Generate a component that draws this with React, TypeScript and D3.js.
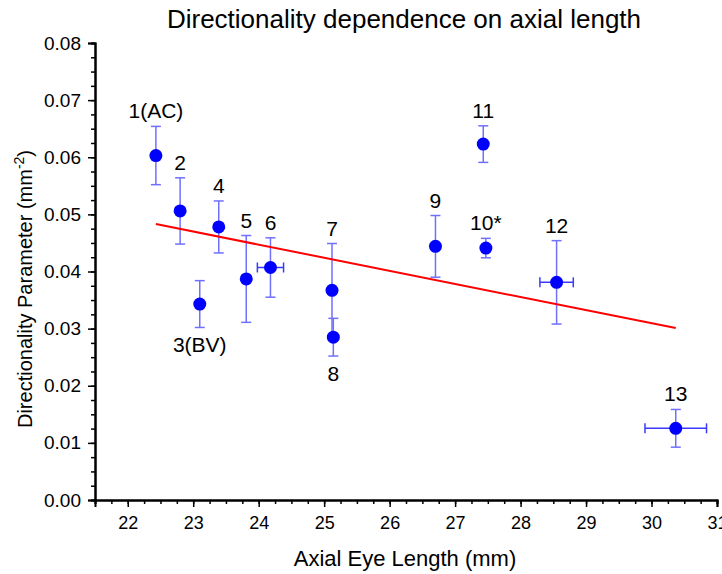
import React, { useEffect, useRef } from "react";
import * as d3 from "d3";

// point data
const labels = ["1(AC)", "2", "3(BV)", "4", "5", "6", "7", "8", "9", "10*", "11", "12", "13"];
const axialLength = [22.43, 22.8, 23.1, 23.39, 23.81, 24.18, 25.12, 25.14, 26.7, 27.47, 27.43, 28.55, 30.37];
const directionality = [0.0603, 0.0506, 0.0343, 0.0478, 0.0387, 0.0407, 0.0367, 0.0285, 0.0444, 0.0441, 0.0623, 0.0381, 0.01255];
const yErr = [0.0051, 0.0058, 0.0041, 0.00455, 0.0076, 0.0052, 0.0082, 0.0033, 0.0054, 0.0017, 0.0032, 0.0073, 0.0033];
const xErr = [0, 0, 0, 0, 0, 0.2, 0, 0, 0, 0, 0, 0.255, 0.47];
const labelSide = ["above", "above", "below", "above", "above", "above", "above", "below", "above", "above", "above", "above", "above"];

// linear fit end points
const fitX = [22.43, 30.37];
const fitY = [0.0483, 0.0301];

const xTicks = [22, 23, 24, 25, 26, 27, 28, 29, 30, 31];
const yTicks = [0, 0.01, 0.02, 0.03, 0.04, 0.05, 0.06, 0.07, 0.08];

export default function App() {
  const ref = useRef<SVGSVGElement>(null);

  useEffect(() => {
    const svg = d3.select(ref.current);
    svg.selectAll("*").remove();

    const x = d3.scaleLinear().domain([21.5, 31]).range([95, 717]);
    const y = d3.scaleLinear().domain([0, 0.08]).range([500, 43]);

    const font = "Arial, 'Liberation Sans', sans-serif";

    // title
    svg.append("text")
      .attr("x", 404)
      .attr("y", 28)
      .attr("text-anchor", "middle")
      .style("font-family", font)
      .style("font-size", "26px")
      .text("Directionality dependence on axial length");

    // axes, minor ticks drawn first
    const xAxis = d3.axisBottom(x).tickValues(xTicks).tickSize(7).tickFormat(d3.format("d"));
    const xMinor = d3.axisBottom(x).tickValues(d3.range(21.5, 31.01, 0.25)).tickSize(4).tickFormat(() => "");
    const yAxis = d3.axisLeft(y).tickValues(yTicks).tickSize(7).tickFormat(d3.format(".2f"));
    const yMinor = d3.axisLeft(y).tickValues(d3.range(0, 0.0801, 0.0025)).tickSize(4).tickFormat(() => "");

    const gxm = svg.append("g").attr("transform", "translate(0,500)").call(xMinor);
    const gx = svg.append("g").attr("transform", "translate(0,500)").call(xAxis);
    const gym = svg.append("g").attr("transform", "translate(95,0)").call(yMinor);
    const gy = svg.append("g").attr("transform", "translate(95,0)").call(yAxis);

    [gx, gxm, gy, gym].forEach(g => {
      g.selectAll("path").attr("stroke", "#000").attr("stroke-width", 2);
      g.selectAll("line").attr("stroke", "#000").attr("stroke-width", 1.5);
      g.selectAll("text")
        .style("font-family", font)
        .style("font-size", "18px")
        .attr("fill", "#000");
    });
    gx.selectAll("text").attr("y", 16);
    gy.selectAll("text").attr("x", -14).style("font-size", "19px");

    // axis titles
    svg.append("text")
      .attr("x", 405)
      .attr("y", 566)
      .attr("text-anchor", "middle")
      .style("font-family", font)
      .style("font-size", "22px")
      .text("Axial Eye Length (mm)");

    const yl = svg.append("text")
      .attr("transform", "translate(32,289) rotate(-90)")
      .attr("text-anchor", "middle")
      .style("font-family", font)
      .style("font-size", "20px");
    yl.append("tspan").text("Directionality Parameter (mm");
    yl.append("tspan").attr("dy", -8).style("font-size", "14px").text("-2");
    yl.append("tspan").attr("dy", 8).text(")");

    const data = labels.map((label, i) => ({
      label,
      x: axialLength[i],
      y: directionality[i],
      ey: yErr[i],
      ex: xErr[i],
      side: labelSide[i]
    }));

    // error bars
    const eb = svg.append("g").attr("stroke", "#7070ff").attr("stroke-width", 1.5);
    data.forEach(d => {
      const cx = x(d.x);
      const y0 = y(d.y - d.ey);
      const y1 = y(d.y + d.ey);
      eb.append("line").attr("x1", cx).attr("x2", cx).attr("y1", y0).attr("y2", y1);
      eb.append("line").attr("x1", cx - 5).attr("x2", cx + 5).attr("y1", y0).attr("y2", y0);
      eb.append("line").attr("x1", cx - 5).attr("x2", cx + 5).attr("y1", y1).attr("y2", y1);
      if (d.ex > 0) {
        const cy = y(d.y);
        const x0 = x(d.x - d.ex);
        const x1 = x(d.x + d.ex);
        eb.append("line").attr("stroke", "#3a3aff").attr("x1", x0).attr("x2", x1).attr("y1", cy).attr("y2", cy);
        eb.append("line").attr("stroke", "#3a3aff").attr("x1", x0).attr("x2", x0).attr("y1", cy - 5).attr("y2", cy + 5);
        eb.append("line").attr("stroke", "#3a3aff").attr("x1", x1).attr("x2", x1).attr("y1", cy - 5).attr("y2", cy + 5);
      }
    });

    // fit line
    svg.append("path")
      .datum(fitX.map((v, i) => [v, fitY[i]] as [number, number]))
      .attr("fill", "none")
      .attr("stroke", "#ff0000")
      .attr("stroke-width", 2)
      .attr("d", d3.line<[number, number]>().x(d => x(d[0])).y(d => y(d[1])));

    // points
    svg.append("g")
      .selectAll("circle")
      .data(data)
      .enter()
      .append("circle")
      .attr("cx", d => x(d.x))
      .attr("cy", d => y(d.y))
      .attr("r", 6.5)
      .attr("fill", "#0000ff");

    // point labels
    svg.append("g")
      .selectAll("text")
      .data(data)
      .enter()
      .append("text")
      .attr("x", d => x(d.x))
      .attr("y", d => d.side === "above" ? y(d.y + d.ey) - 8 : y(d.y - d.ey) + 25)
      .attr("text-anchor", "middle")
      .style("font-family", font)
      .style("font-size", "21px")
      .text(d => d.label);
  }, []);

  return (
    <div style={{ position: "absolute", left: 0, top: 0 }}>
      <svg ref={ref} width={722} height={574} style={{ display: "block", background: "#fff" }} />
    </div>
  );
}
